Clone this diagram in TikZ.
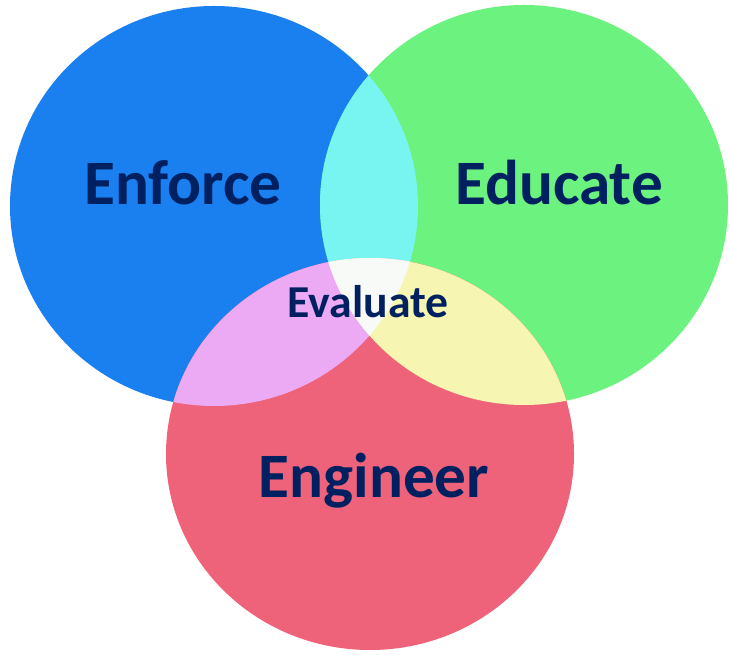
\documentclass[tikz,border=0pt]{standalone}
\usepackage{fontspec}
\setmainfont{Carlito}
\usetikzlibrary{positioning,calc}
\definecolor{enfblue}{RGB}{26,128,240}
\definecolor{edugreen}{RGB}{108,242,126}
\definecolor{engred}{RGB}{239,99,122}
\definecolor{ovcyan}{RGB}{120,245,240}
\definecolor{ovpink}{RGB}{236,170,245}
\definecolor{ovyellow}{RGB}{246,246,178}
\definecolor{ovwhite}{RGB}{248,250,248}
\definecolor{navy}{RGB}{0,32,96}
\tikzstyle{bigword} = [text=navy, font=\fontsize{45}{50}\selectfont\bfseries, anchor=base, inner sep=0pt]
\tikzstyle{smallword} = [text=navy, font=\fontsize{32.5}{36}\selectfont\bfseries, anchor=base, inner sep=0pt]
\tikzstyle{topdisc} = [x radius=5.1cm, y radius=5.0cm]
\tikzstyle{lowdisc} = [x radius=5.1cm, y radius=4.9cm]

\begin{document}
\begin{tikzpicture}
      \useasboundingbox[fill=white] (0,0) rectangle (18.25,16.375);
      \coordinate (cEnf) at (5.35,11.225);
      \coordinate (cEdu) at (13.1,11.25);
      \coordinate (cEng) at (9.25,5.025);
      % the three discs
      \fill[enfblue] (cEnf) ellipse [topdisc];
      \fill[edugreen] (cEdu) ellipse [topdisc];
      \fill[engred] (cEng) ellipse [lowdisc];
      % overlaps of two discs
      \begin{scope}
        \clip (cEnf) ellipse [topdisc];
        \fill[ovcyan] (cEdu) ellipse [topdisc];
        \fill[ovpink] (cEng) ellipse [lowdisc];
      \end{scope}
      \begin{scope}
        \clip (cEdu) ellipse [topdisc];
        \fill[ovyellow] (cEng) ellipse [lowdisc];
      \end{scope}
      % overlap of all three
      \begin{scope}
        \clip (cEnf) ellipse [topdisc];
        \clip (cEdu) ellipse [topdisc];
        \fill[ovwhite] (cEng) ellipse [lowdisc];
      \end{scope}
      \node[bigword] (enforce) at (4.575,11.25) {Enforce};
      \node[bigword] (educate) at (13.975,11.25) {Educate};
      \node[bigword] (engineer) at (9.35,3.925) {Engineer};
      \node[smallword] (evaluate) at (9.2,8.425) {Evaluate};
\end{tikzpicture}
\end{document}
